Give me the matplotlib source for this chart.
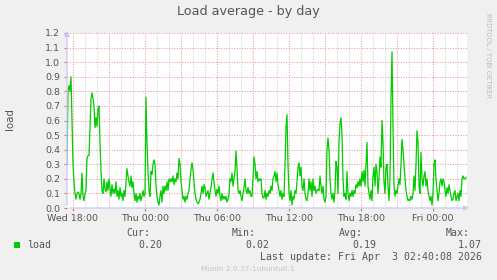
import numpy as np
import pandas as pd
import matplotlib
matplotlib.use("Agg")
import matplotlib.pyplot as plt
import matplotlib.dates as mdates

# 5 minute load samples, Wed 17:30 onwards
start = "2026-04-01 17:30"
load = [
    0.30, 0.80, 0.84, 0.80, 0.90, 0.60, 0.30, 0.18, 0.10, 0.06,
    0.10, 0.11, 0.10, 0.06, 0.10, 0.24, 0.08, 0.05, 0.10, 0.12,
    0.34, 0.36, 0.36, 0.55, 0.75, 0.79, 0.75, 0.70, 0.55, 0.62,
    0.56, 0.68, 0.70, 0.45, 0.25, 0.12, 0.10, 0.20, 0.13, 0.11,
    0.18, 0.12, 0.20, 0.14, 0.08, 0.16, 0.10, 0.13, 0.10, 0.18,
    0.08, 0.12, 0.06, 0.14, 0.08, 0.10, 0.05, 0.12, 0.08, 0.18,
    0.27, 0.22, 0.18, 0.15, 0.22, 0.14, 0.18, 0.10, 0.05, 0.10,
    0.04, 0.08, 0.06, 0.10, 0.05, 0.08, 0.12, 0.08, 0.10, 0.76,
    0.45, 0.25, 0.12, 0.08, 0.25, 0.23, 0.30, 0.33, 0.30, 0.15,
    0.08, 0.04, 0.02, 0.08, 0.12, 0.04, 0.15, 0.10, 0.15, 0.12,
    0.18, 0.12, 0.20, 0.18, 0.20, 0.18, 0.22, 0.16, 0.20, 0.18,
    0.24, 0.20, 0.34, 0.30, 0.18, 0.12, 0.06, 0.08, 0.04, 0.08,
    0.06, 0.10, 0.12, 0.20, 0.26, 0.31, 0.26, 0.18, 0.10, 0.06,
    0.04, 0.03, 0.04, 0.06, 0.10, 0.15, 0.10, 0.16, 0.14, 0.08,
    0.10, 0.12, 0.06, 0.10, 0.14, 0.20, 0.24, 0.18, 0.12, 0.08,
    0.13, 0.10, 0.15, 0.08, 0.05, 0.10, 0.06, 0.08, 0.06, 0.08,
    0.04, 0.06, 0.10, 0.20, 0.18, 0.24, 0.15, 0.20, 0.25, 0.39,
    0.28, 0.12, 0.10, 0.12, 0.08, 0.05, 0.10, 0.14, 0.20, 0.12,
    0.10, 0.14, 0.10, 0.12, 0.08, 0.08, 0.20, 0.35, 0.30, 0.20,
    0.25, 0.18, 0.20, 0.19, 0.20, 0.10, 0.07, 0.07, 0.12, 0.06,
    0.10, 0.08, 0.12, 0.10, 0.15, 0.12, 0.20, 0.22, 0.25, 0.18,
    0.24, 0.16, 0.12, 0.08, 0.12, 0.06, 0.10, 0.08, 0.30, 0.55,
    0.64, 0.30, 0.10, 0.05, 0.12, 0.02, 0.08, 0.06, 0.12, 0.10,
    0.18, 0.28, 0.31, 0.22, 0.28, 0.15, 0.12, 0.20, 0.10, 0.06,
    0.05, 0.10, 0.20, 0.12, 0.18, 0.08, 0.20, 0.12, 0.15, 0.10,
    0.12, 0.13, 0.12, 0.22, 0.15, 0.10, 0.15, 0.06, 0.04, 0.08,
    0.40, 0.48, 0.40, 0.20, 0.10, 0.06, 0.10, 0.04, 0.12, 0.32,
    0.28, 0.10, 0.45, 0.58, 0.62, 0.50, 0.20, 0.08, 0.10, 0.06,
    0.25, 0.10, 0.05, 0.10, 0.08, 0.12, 0.08, 0.12, 0.10, 0.16,
    0.14, 0.18, 0.15, 0.20, 0.15, 0.25, 0.18, 0.26, 0.15, 0.30,
    0.45, 0.15, 0.10, 0.06, 0.12, 0.05, 0.22, 0.28, 0.15, 0.30,
    0.25, 0.10, 0.20, 0.35, 0.28, 0.60, 0.45, 0.18, 0.10, 0.28,
    0.30, 0.15, 0.05, 0.20, 0.75, 1.07, 0.55, 0.15, 0.08, 0.12,
    0.10, 0.15, 0.20, 0.16, 0.30, 0.47, 0.40, 0.30, 0.20, 0.12,
    0.08, 0.05, 0.06, 0.05, 0.08, 0.06, 0.10, 0.22, 0.12, 0.30,
    0.53, 0.45, 0.15, 0.10, 0.38, 0.20, 0.15, 0.22, 0.25, 0.15,
    0.20, 0.12, 0.08, 0.05, 0.08, 0.02, 0.10, 0.30, 0.33, 0.20,
    0.12, 0.05, 0.10, 0.18, 0.20, 0.15, 0.20, 0.18, 0.12, 0.08,
    0.14, 0.10, 0.16, 0.12, 0.08, 0.05, 0.06, 0.10, 0.12, 0.05,
    0.08, 0.10, 0.05, 0.12, 0.08, 0.20, 0.22, 0.20, 0.20, 0.21,
]
yticks = [0.0, 0.1, 0.2, 0.3, 0.4, 0.5, 0.6, 0.7, 0.8, 0.9, 1.0, 1.1, 1.2]
cur, vmin, avg, vmax = "0.20", "0.02", "0.19", "1.07"
last_update = "Last update: Fri Apr  3 02:40:08 2026"

times = pd.date_range(start, periods=len(load), freq="5min")
t0 = pd.Timestamp(start)
t1 = t0 + pd.Timedelta(minutes=5 * 400)

W, H = 497, 280
fig = plt.figure(figsize=(W / 100, H / 100), dpi=100, facecolor="#F0F0F0")
ax = fig.add_axes([67 / W, 1 - 208 / H, 400 / W, 175 / H])
ax.set_facecolor("white")

ax.plot(times, load, color="#00CC00", lw=0.9, zorder=3)
ax.set_xlim(t0, t1)
ax.set_ylim(0, 1.2)

labels = mdates.HourLocator(byhour=range(0, 24, 6))
ax.set_xticks(labels.tick_values(t0.to_pydatetime(), t1.to_pydatetime()))
ax.xaxis.set_major_formatter(mdates.DateFormatter("%a %H:%M"))
ax.set_yticks(yticks)
ax.set_yticklabels([f"{v:.1f}" for v in yticks])

# grid: red every 3h / 0.1, gray every hour
for h in mdates.HourLocator().tick_values(t0.to_pydatetime(), t1.to_pydatetime()):
    dt = mdates.num2date(h)
    if dt.hour % 3 == 0:
        c = "#EE9A9A"
    else:
        c = "#CFCFCF"
    ax.axvline(h, color=c, lw=0.75, ls=(0, (1, 1.5)), zorder=1)
for v in yticks[1:]:
    ax.axhline(v, color="#EE9A9A", lw=0.75, ls=(0, (1, 1.5)), zorder=1, clip_on=False)

for s in ax.spines.values():
    s.set_visible(False)
ax.tick_params(axis="both", which="major", length=2, color="#E07070",
               labelsize=6.8, labelcolor="#555555", pad=2)
ax.tick_params(axis="y", pad=3)

# axis lines with arrows
arrow = dict(arrowstyle="-|>,head_length=0.3,head_width=0.15", color="#C8C8F8", lw=0.9)
ax.annotate("", xy=(1.012, 0), xytext=(0, 0), xycoords="axes fraction",
            arrowprops=arrow, zorder=4)
ax.annotate("", xy=(0, 1.028), xytext=(0, 0), xycoords="axes fraction",
            arrowprops=arrow, zorder=4)

def px(x, y):
    return x / W, 1 - y / H

fig.text(*px(248, 12), "Load average - by day", ha="center", va="center",
         fontsize=9.2, color="#555555")
fig.text(*px(10, 119), "load", ha="center", va="center", rotation=90,
         fontsize=7.4, color="#555555")
fig.text(*px(488, 56), "RRDTOOL / TOBI OETIKER", ha="center", va="center",
         rotation=270, fontsize=4.8, color="#BBBBBB")

mono = dict(family="DejaVu Sans Mono", fontsize=7.1, color="#555555", va="center")
fig.text(*px(150, 233), "Cur:", ha="right", **mono)
fig.text(*px(256, 233), "Min:", ha="right", **mono)
fig.text(*px(363, 233), "Avg:", ha="right", **mono)
fig.text(*px(470, 233), "Max:", ha="right", **mono)
fig.text(*px(162, 245), cur, ha="right", **mono)
fig.text(*px(269, 245), vmin, ha="right", **mono)
fig.text(*px(376, 245), avg, ha="right", **mono)
fig.text(*px(482, 245), vmax, ha="right", **mono)
fig.text(*px(27, 245), "load", ha="left", **mono)
fig.text(*px(482, 257), last_update, ha="right", **mono)
fig.patches.append(plt.Rectangle(px(14, 248), 6 / W, 6 / H, transform=fig.transFigure,
                                 facecolor="#00CC00", edgecolor="none"))
fig.text(*px(248, 269), "Munin 2.0.37-1ubuntu0.1", ha="center", va="center",
         fontsize=5.3, color="#C4C4C4")

fig.savefig("out.png", dpi=100, facecolor=fig.get_facecolor())
